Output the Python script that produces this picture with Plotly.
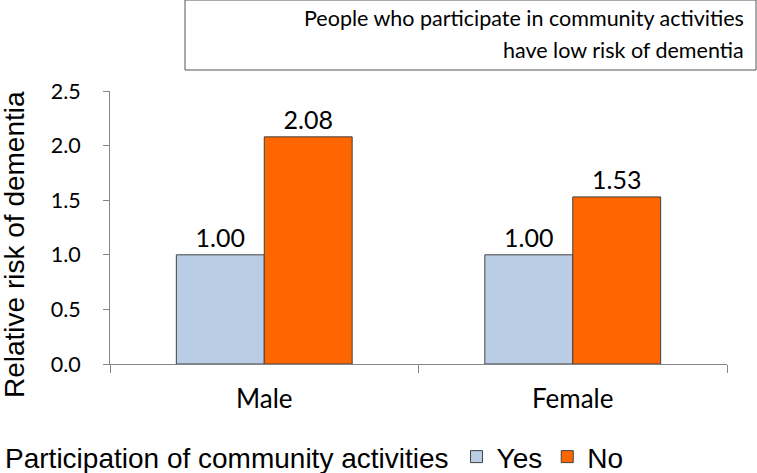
import plotly.graph_objects as go

categories = ["Male", "Female"]
yes_values = [1.00, 1.00]
no_values = [2.08, 1.53]
series_names = ["Yes", "No"]
y_ticks = [0.0, 0.5, 1.0, 1.5, 2.0, 2.5]
title_lines = ["People who participate in community activities", "have low risk of dementia"]
y_title = "Relative risk of dementia"
legend_title = "Participation of community activities"

W, H = 757, 473
L, R, T, B = 110, 30, 91, 109
pw, ph = W - L - R, H - T - B

def px_x(x):
    return (x - L) / pw

def px_y(y):
    return (H - B - y) / ph

label_font = dict(family="Lato", size=25, color="#000000")

fig = go.Figure()
fig.add_trace(go.Bar(
    x=categories, y=yes_values, name=series_names[0],
    marker=dict(color="#B9CDE5", line=dict(color="#404040", width=1)),
    texttemplate="%{y:.2f}", textposition="outside", textfont=label_font,
    cliponaxis=False,
))
fig.add_trace(go.Bar(
    x=categories, y=no_values, name=series_names[1],
    marker=dict(color="#FF6600", line=dict(color="#404040", width=1)),
    texttemplate="%{y:.2f}", textposition="outside", textfont=label_font,
    cliponaxis=False,
))

fig.update_layout(
    width=W, height=H,
    margin=dict(l=L, r=R, t=T, b=B, pad=0),
    paper_bgcolor="white", plot_bgcolor="white",
    barmode="group", bargap=0.43, bargroupgap=0,
    showlegend=True,
    legend=dict(
        orientation="h", xref="container", yref="container",
        x=0.004, y=0.034, xanchor="left", yanchor="middle",
        title=dict(text=legend_title, side="left",
                   font=dict(family="Liberation Sans", size=28, color="#000000")),
        font=dict(family="Liberation Sans", size=28, color="#000000"),
        itemwidth=30, tracegroupgap=0,
    ),
    xaxis=dict(
        showline=True, linecolor="#868686", linewidth=1,
        ticks="outside", ticklen=8, tickcolor="#868686", tickson="boundaries",
        tickfont=dict(family="Lato", size=26, color="#000000"),
        ticklabelstandoff=12,
        showgrid=False, zeroline=False,
    ),
    yaxis=dict(
        range=[0, 2.5], tickvals=y_ticks, tickformat=".1f",
        showline=True, linecolor="#868686", linewidth=1,
        ticks="outside", ticklen=6, tickcolor="#868686",
        tickfont=dict(family="Lato", size=21.5, color="#000000"),
        ticklabelstandoff=18,
        showgrid=False, zeroline=False,
    ),
)

fig.add_shape(type="rect", xref="paper", yref="paper",
              x0=px_x(185), x1=px_x(756), y0=px_y(70), y1=px_y(0),
              line=dict(color="#555555", width=1), fillcolor="white", layer="below")
for line_text, cy in zip(title_lines, [18, 50]):
    fig.add_annotation(xref="paper", yref="paper", x=px_x(746), y=px_y(cy),
                       xanchor="right", yanchor="middle", align="right",
                       text=line_text, showarrow=False,
                       font=dict(family="Lato", size=21.5, color="#000000"))
fig.add_annotation(xref="paper", yref="paper", x=px_x(14), y=px_y(245),
                   xanchor="center", yanchor="middle", textangle=-90,
                   text=y_title, showarrow=False,
                   font=dict(family="Liberation Sans", size=28, color="#000000"))

fig.write_html("out.html", config={"displayModeBar": False},
               post_script="document.body.style.margin='0';")
